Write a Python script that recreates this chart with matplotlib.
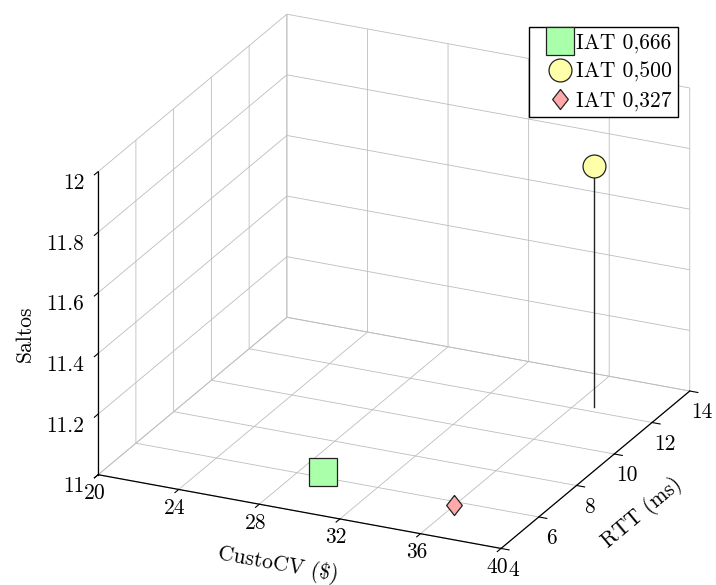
import matplotlib
matplotlib.use("Agg")
from matplotlib import pyplot as plt
from matplotlib.ticker import FuncFormatter
from mpl_toolkits.mplot3d import proj3d
import numpy as np

# data (CustoCV, RTT, Saltos)
labels = ["IAT 0,666", "IAT 0,500", "IAT 0,327"]
custo = [29.0, 36.9, 36.0]
rtt = [6.3, 12.26, 5.8]
saltos = [11.0, 11.795, 11.0]

x_ticks = [20, 24, 28, 32, 36, 40]
y_ticks = [4, 6, 8, 10, 12, 14]
z_ticks = [11, 11.2, 11.4, 11.6, 11.8, 12]

plt.rcParams["font.family"] = ["cmr10", "DejaVu Serif"]
plt.rcParams["font.size"] = 15.5
plt.rcParams["grid.color"] = "#bdbdbd"
plt.rcParams["grid.linewidth"] = 0.6

W, H = 716, 585
fig = plt.figure(figsize=(W / 100, H / 100), dpi=100)
ax = fig.add_axes([0.1, 0.1, 0.8, 0.8 * W / H], projection="3d", proj_type="ortho")
ax.view_init(elev=23, azim=-64.9)
ax.set_box_aspect((1, 1, 0.74))

ax.set_xlim(20, 40)
ax.set_ylim(4, 14)
ax.set_zlim(11, 12)
ax.set_xticks(x_ticks)
ax.set_yticks(y_ticks)
ax.set_zticks(z_ticks)
fmt = FuncFormatter(lambda v, p: f"{v:g}")
for a in (ax.xaxis, ax.yaxis, ax.zaxis):
    a.set_major_formatter(fmt)
    a.set_pane_color((1, 1, 1, 0))
    a.pane.set_edgecolor("#808080")
    a.line.set_color("black")
    a.line.set_linewidth(0.9)
    a._axinfo["tick"]["inward_factor"] = 0.25
    a._axinfo["tick"]["outward_factor"] = 0.0
    a._axinfo["tick"]["color"] = "#808080"
ax.xaxis.set_tick_params(pad=-3)
ax.yaxis.set_tick_params(pad=0)
ax.zaxis.set_tick_params(pad=-2)

# z axis on the left front edge, labels right-aligned
ax.zaxis.set_ticks_position("lower")
ax.zaxis.set_label_position("lower")

ax.set_xlabel(r"CustoCV (\$)", labelpad=9)
ax.set_ylabel("RTT (ms)", labelpad=9)
ax.set_zlabel("Saltos", labelpad=11)

# circle stem
ax.plot([custo[1], custo[1]], [rtt[1], rtt[1]], [11, saltos[1]], color="#222222", lw=1)

styles = [
    dict(marker="s", ms=19.5, mfc="#aaffaa"),
    dict(marker="o", ms=16.5, mfc="#ffffaa"),
    dict(marker=[(0, 1), (0.78, 0), (0, -1), (-0.78, 0), (0, 1)], ms=14.5, mfc="#ffaaaa"),
]
handles = []
for i, lab in enumerate(labels):
    h, = ax.plot([custo[i]], [rtt[i]], [saltos[i]], linestyle="none", mec="#222222",
                 mew=0.9, label=lab, **styles[i])
    handles.append(h)

# fit the projected box onto the target corners (pixel coords, y from top)
corners = [(20, 4, 11), (40, 4, 11), (40, 14, 11), (20, 14, 12), (20, 4, 12)]
targets = np.array([(98, 474), (502, 548), (690, 391), (286, 14), (98, 173)], float)
targets[:, 1] = H - targets[:, 1]

fig.canvas.draw()
bb = ax.get_position().transformed(fig.transFigure)
side0 = bb.width
c0 = np.array([bb.x0 + bb.width / 2, bb.y0 + bb.height / 2])
pts = []
for (x, y, z) in corners:
    xs, ys, _ = proj3d.proj_transform(x, y, z, ax.M)
    pts.append(ax.transData.transform((xs, ys)))
q = (np.array(pts) - c0) / side0
qm, tm = q.mean(0), targets.mean(0)
S = ((q - qm) * (targets - tm)).sum() / ((q - qm) ** 2).sum()
c = tm - S * qm
ax.set_position([(c[0] - S / 2) / W, (c[1] - S / 2) / H, S / W, S / H])

for t in ax.zaxis.get_ticklabels():
    t.set_horizontalalignment("right")

fig.legend(handles=handles, loc="upper right", bbox_to_anchor=(678 / W, 1 - 27 / H),
           bbox_transform=fig.transFigure, borderaxespad=0, fancybox=False,
           edgecolor="black", framealpha=1, handlelength=2.3, handletextpad=-0.4,
           labelspacing=0.42, borderpad=0.28, numpoints=1)

fig.savefig("out.png", dpi=100)
